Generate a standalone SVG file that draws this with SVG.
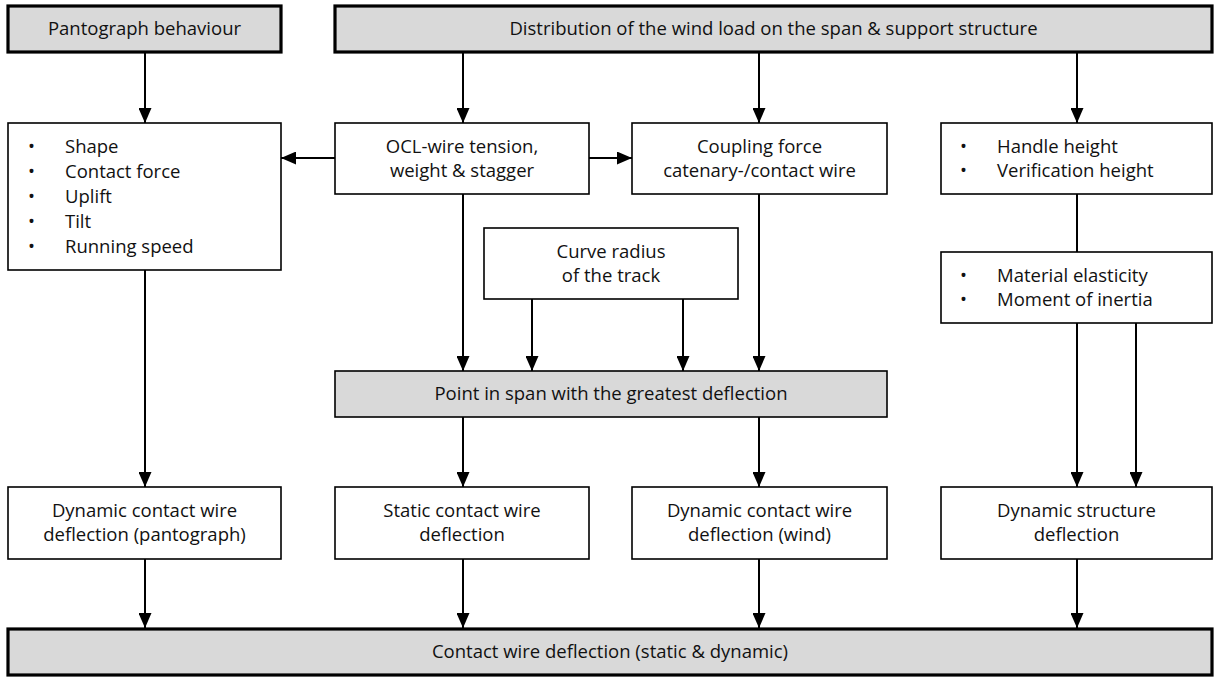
<svg xmlns="http://www.w3.org/2000/svg" width="1218" height="677" viewBox="0 0 1218 677">
<style>
.box{fill:#ffffff;stroke:#000;stroke-width:1.6}
.grey{fill:#d9d9d9;stroke:#000;stroke-width:1.6}
.key{fill:#d9d9d9;stroke:#000;stroke-width:3.2}
text{font-family:"Open Sans","Noto Sans",sans-serif;font-size:18.5px;fill:#111}
.c{text-anchor:middle}
.conn line{stroke:#000;stroke-width:2;fill:none}
</style>
<defs>
<marker id="ah" viewBox="0 0 15 13" refX="15" refY="6.5" markerWidth="15" markerHeight="13" markerUnits="userSpaceOnUse" orient="auto">
<path d="M0,0 L15,6.5 L0,13 z" fill="#000"/>
</marker>
</defs>
<rect width="1218" height="677" fill="#fff"/>
<g class="conn">
<line x1="145" y1="53" x2="145" y2="123" marker-end="url(#ah)"/>
<line x1="463" y1="53" x2="463" y2="123" marker-end="url(#ah)"/>
<line x1="759" y1="53" x2="759" y2="123" marker-end="url(#ah)"/>
<line x1="1077" y1="53" x2="1077" y2="123" marker-end="url(#ah)"/>
<line x1="335" y1="158" x2="281" y2="158" marker-end="url(#ah)"/>
<line x1="589" y1="158" x2="632" y2="158" marker-end="url(#ah)"/>
<line x1="1077" y1="194" x2="1077" y2="252"/>
<line x1="463" y1="194" x2="463" y2="371" marker-end="url(#ah)"/>
<line x1="759" y1="194" x2="759" y2="371" marker-end="url(#ah)"/>
<line x1="532" y1="299" x2="532" y2="371" marker-end="url(#ah)"/>
<line x1="683" y1="299" x2="683" y2="371" marker-end="url(#ah)"/>
<line x1="145" y1="270" x2="145" y2="487" marker-end="url(#ah)"/>
<line x1="463" y1="417" x2="463" y2="487" marker-end="url(#ah)"/>
<line x1="759" y1="417" x2="759" y2="487" marker-end="url(#ah)"/>
<line x1="1077" y1="323" x2="1077" y2="487" marker-end="url(#ah)"/>
<line x1="1136" y1="323" x2="1136" y2="487" marker-end="url(#ah)"/>
<line x1="145" y1="559" x2="145" y2="628" marker-end="url(#ah)"/>
<line x1="463" y1="559" x2="463" y2="628" marker-end="url(#ah)"/>
<line x1="759" y1="559" x2="759" y2="628" marker-end="url(#ah)"/>
<line x1="1077" y1="559" x2="1077" y2="628" marker-end="url(#ah)"/>
</g>
<g id="pantograph">
<rect class="key" x="8" y="6" width="273" height="46"/>
<text class="c" x="144.5" y="35">Pantograph behaviour</text>
</g>
<g id="wind">
<rect class="key" x="335" y="6" width="877" height="46"/>
<text class="c" x="773.5" y="35">Distribution of the wind load on the span &amp; support structure</text>
</g>
<g id="panto-params">
<rect class="box" x="8" y="123" width="273" height="147"/>
<text x="28" y="153">•</text><text x="65" y="153">Shape</text>
<text x="28" y="178">•</text><text x="65" y="178">Contact force</text>
<text x="28" y="203">•</text><text x="65" y="203">Uplift</text>
<text x="28" y="228">•</text><text x="65" y="228">Tilt</text>
<text x="28" y="253">•</text><text x="65" y="253">Running speed</text>
</g>
<g id="ocl">
<rect class="box" x="335" y="123" width="254" height="71"/>
<text class="c" x="462" y="153">OCL-wire tension,</text>
<text class="c" x="462" y="177">weight &amp; stagger</text>
</g>
<g id="coupling">
<rect class="box" x="632" y="123" width="255" height="71"/>
<text class="c" x="759.5" y="153">Coupling force</text>
<text class="c" x="759.5" y="177">catenary-/contact wire</text>
</g>
<g id="height">
<rect class="box" x="941" y="123" width="271" height="71"/>
<text x="960" y="153">•</text><text x="997" y="153">Handle height</text>
<text x="960" y="177">•</text><text x="997" y="177">Verification height</text>
</g>
<g id="curve">
<rect class="box" x="484" y="228" width="254" height="71"/>
<text class="c" x="611" y="258">Curve radius</text>
<text class="c" x="611" y="282">of the track</text>
</g>
<g id="material">
<rect class="box" x="941" y="252" width="271" height="71"/>
<text x="960" y="282">•</text><text x="997" y="282">Material elasticity</text>
<text x="960" y="306">•</text><text x="997" y="306">Moment of inertia</text>
</g>
<g id="point">
<rect class="grey" x="335" y="371" width="552" height="46"/>
<text class="c" x="611" y="400">Point in span with the greatest deflection</text>
</g>
<g id="dyn-panto">
<rect class="box" x="8" y="487" width="273" height="72"/>
<text class="c" x="144.5" y="517">Dynamic contact wire</text>
<text class="c" x="144.5" y="541">deflection (pantograph)</text>
</g>
<g id="static">
<rect class="box" x="335" y="487" width="254" height="72"/>
<text class="c" x="462" y="517">Static contact wire</text>
<text class="c" x="462" y="541">deflection</text>
</g>
<g id="dyn-wind">
<rect class="box" x="632" y="487" width="255" height="72"/>
<text class="c" x="759.5" y="517">Dynamic contact wire</text>
<text class="c" x="759.5" y="541">deflection (wind)</text>
</g>
<g id="dyn-structure">
<rect class="box" x="941" y="487" width="271" height="72"/>
<text class="c" x="1076.5" y="517">Dynamic structure</text>
<text class="c" x="1076.5" y="541">deflection</text>
</g>
<g id="result">
<rect class="key" x="8" y="629" width="1204" height="46"/>
<text class="c" x="610" y="658">Contact wire deflection (static &amp; dynamic)</text>
</g>
</svg>
